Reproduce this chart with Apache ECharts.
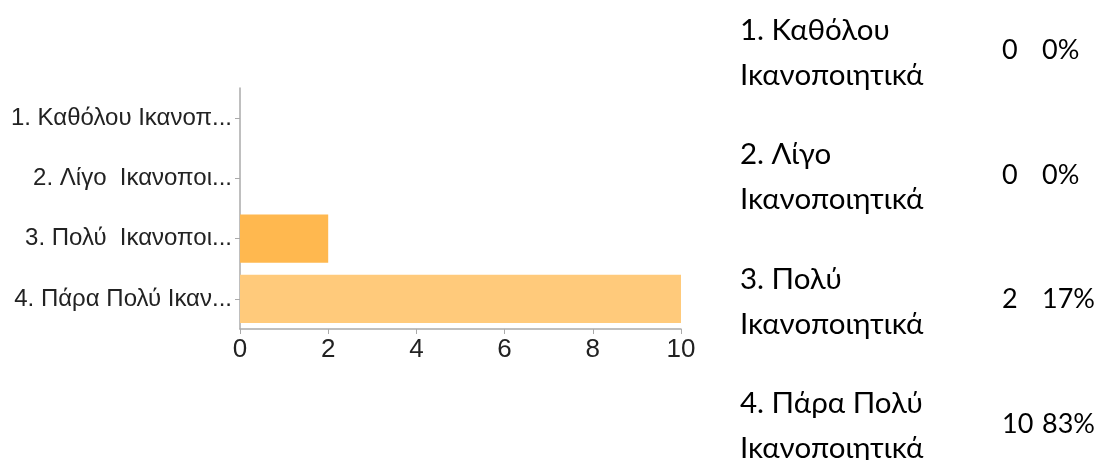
<!DOCTYPE html>
<html><head><meta charset="utf-8">
<script src="https://cdn.jsdelivr.net/npm/echarts@6/dist/echarts.min.js"></script>
<style>html,body{margin:0;padding:0;background:#fff}#c{width:1102px;height:460px}</style>
</head><body><div id="c"></div>
<script>
// ---- data ----
const axisLabels = ['1. Καθόλου Ικανοπ...', '2. Λίγο  Ικανοποι...', '3. Πολύ  Ικανοποι...', '4. Πάρα Πολύ Ικαν...'];
const tableLine1 = ['1. Καθόλου', '2. Λίγο', '3. Πολύ', '4. Πάρα Πολύ'];
const tableLine2 = ['Ικανοποιητικά', 'Ικανοποιητικά', 'Ικανοποιητικά', 'Ικανοποιητικά'];
const counts = [0, 0, 2, 10];
const percents = ['0%', '0%', '17%', '83%'];
const xTicks = [0, 2, 4, 6, 8, 10];

// ---- styles ----
const barColors = ['#ffb84f', '#ffb84f', '#ffb84f', '#ffca7b'];
const tableFont = '"Lato", "Noto Sans", sans-serif';
const tableSize = 29.5;
const numSize = 27;

const chart = echarts.init(document.getElementById('c'), null, {renderer: 'canvas'});

const graphics = [];
tableLine1.forEach((t, i) => {
  const top = 15 + i * 124.5;
  const f = tableSize + 'px ' + tableFont;
  const nf = numSize + 'px ' + tableFont;
  graphics.push({type: 'text', left: 740, top: top, style: {text: t, font: f, fill: '#000'}});
  graphics.push({type: 'text', left: 740, top: top + 45, style: {text: tableLine2[i], font: f, fill: '#000'}});
  graphics.push({type: 'text', left: 1002, top: top + 22, style: {text: String(counts[i]), font: nf, fill: '#000'}});
  graphics.push({type: 'text', left: 1042, top: top + 22, style: {text: percents[i], font: nf, fill: '#000'}});
});

chart.setOption({
  animation: false,
  grid: {left: 240, top: 88, width: 441, height: 241, containLabel: false},
  xAxis: {
    type: 'value', min: 0, max: 10, interval: 2,
    axisLine: {show: true, lineStyle: {color: '#aaa', width: 1.5}},
    axisTick: {show: true, length: 5, lineStyle: {color: '#aaa'}},
    splitLine: {show: false},
    axisLabel: {color: '#222', fontSize: 26, fontFamily: '"Liberation Sans", Arial, sans-serif', margin: 8,
      formatter: v => xTicks.includes(v) ? String(v) : ''}
  },
  yAxis: {
    type: 'category', data: axisLabels, inverse: true,
    axisLine: {show: true, lineStyle: {color: '#aaa', width: 1.5}},
    axisTick: {show: true, length: 5, alignWithLabel: true, lineStyle: {color: '#aaa'}},
    axisLabel: {color: '#222', fontSize: 24, fontFamily: '"Liberation Sans", Arial, sans-serif', margin: 8}
  },
  series: [{
    type: 'bar',
    data: counts.map((v, i) => ({value: v, itemStyle: {color: barColors[i]}})),
    barCategoryGap: '20%'
  }],
  graphic: graphics
});
</script></body></html>
